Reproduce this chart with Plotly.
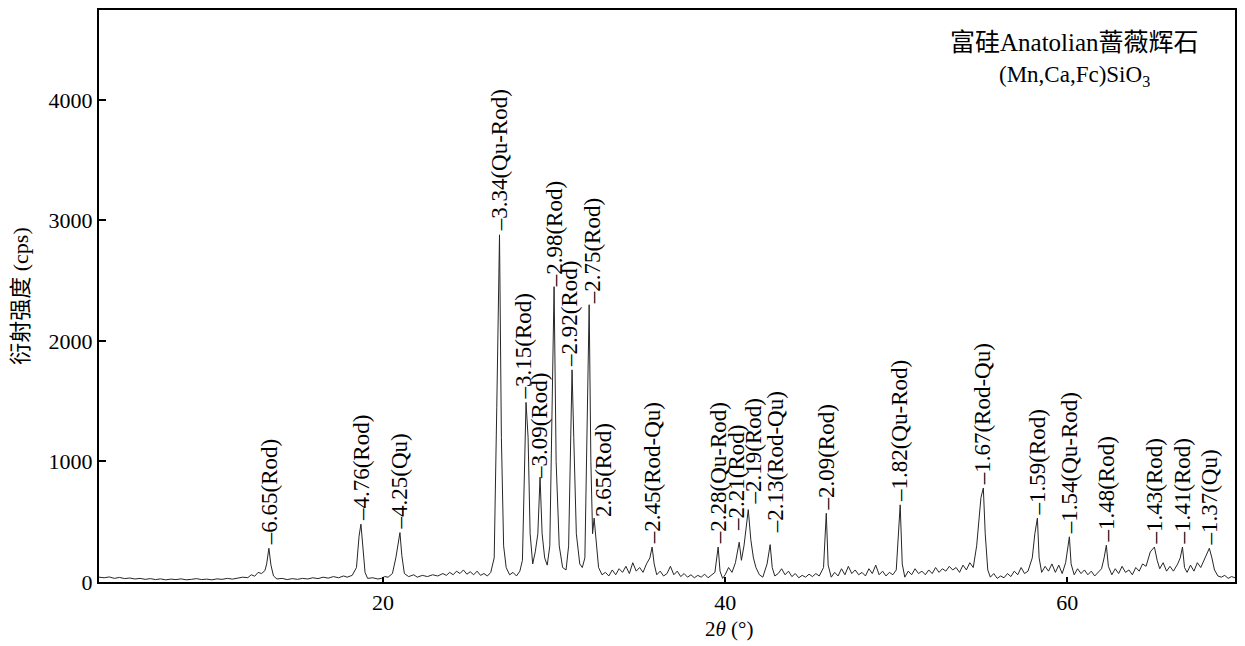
import plotly.graph_objects as go

# 2-theta (deg) and intensity (cps)
two_theta = [3.4, 3.7, 4.0, 4.3, 4.6, 4.9, 5.2, 5.5, 5.8, 6.1, 6.4, 6.7, 7.0, 7.3, 7.6, 7.9, 8.2, 8.5, 8.8, 9.1,
             9.4, 9.7, 10.0, 10.3, 10.6, 10.9, 11.2, 11.5, 11.8, 12.1, 12.3, 12.5, 12.7, 12.9, 13.1, 13.2, 13.33, 13.45, 13.6, 13.8,
             14.1, 14.4, 14.7, 15.0, 15.3, 15.6, 15.9, 16.2, 16.5, 16.8, 17.1, 17.4, 17.7, 17.9, 18.2, 18.45, 18.6, 18.71, 18.82, 18.95,
             19.1, 19.4, 19.7, 19.9, 20.1, 20.3, 20.55, 20.75, 20.99, 21.1, 21.25, 21.5, 21.8, 22.0, 22.3, 22.6, 22.9, 23.2, 23.5, 23.7,
             23.9, 24.1, 24.3, 24.5, 24.7, 24.9, 25.1, 25.3, 25.5, 25.7, 25.9, 26.1, 26.3, 26.5, 26.65, 26.81, 26.92, 27.05, 27.2, 27.4,
             27.6, 27.8, 28.0, 28.15, 28.36, 28.48, 28.6, 28.75, 28.9, 29.05, 29.18, 29.3, 29.45, 29.6, 29.75, 29.9, 30.0, 30.12, 30.3, 30.5,
             30.7, 30.85, 31.05, 31.15, 31.3, 31.5, 31.65, 31.8, 31.93, 32.05, 32.15, 32.25, 32.34, 32.45, 32.6, 32.8, 33.0, 33.2, 33.4, 33.6,
             33.8, 34.0, 34.2, 34.4, 34.6, 34.8, 35.0, 35.2, 35.4, 35.6, 35.73, 35.85, 36.0, 36.2, 36.4, 36.6, 36.8, 37.0, 37.2, 37.4,
             37.6, 37.8, 38.0, 38.2, 38.4, 38.6, 38.8, 39.0, 39.2, 39.4, 39.59, 39.7, 39.85, 40.0, 40.2, 40.4, 40.6, 40.82, 40.95, 41.1,
             41.35, 41.5, 41.65, 41.8, 42.0, 42.2, 42.45, 42.63, 42.75, 42.9, 43.1, 43.3, 43.5, 43.7, 43.9, 44.1, 44.3, 44.5, 44.7, 44.9,
             45.1, 45.3, 45.5, 45.75, 45.91, 46.02, 46.2, 46.4, 46.6, 46.8, 47.0, 47.2, 47.4, 47.6, 47.8, 48.0, 48.2, 48.4, 48.6, 48.8,
             49.0, 49.2, 49.4, 49.6, 49.8, 50.0, 50.23, 50.35, 50.5, 50.7, 50.9, 51.1, 51.3, 51.5, 51.7, 51.9, 52.1, 52.3, 52.5, 52.7,
             52.9, 53.1, 53.3, 53.5, 53.7, 53.9, 54.1, 54.3, 54.5, 54.7, 54.95, 55.09, 55.2, 55.35, 55.5, 55.7, 55.9, 56.1, 56.3, 56.5,
             56.7, 56.9, 57.1, 57.3, 57.5, 57.7, 57.95, 58.1, 58.25, 58.35, 58.5, 58.7, 58.9, 59.1, 59.3, 59.5, 59.7, 59.9, 60.12, 60.22,
             60.4, 60.6, 60.8, 61.0, 61.2, 61.4, 61.6, 61.8, 62.0, 62.15, 62.28, 62.4, 62.6, 62.8, 63.0, 63.2, 63.4, 63.6, 63.8, 64.0,
             64.2, 64.4, 64.6, 64.85, 65.09, 65.25, 65.4, 65.6, 65.8, 66.0, 66.2, 66.45, 66.6, 66.73, 66.85, 67.0, 67.2, 67.4, 67.6, 67.8,
             68.1, 68.3, 68.45, 68.6, 68.8, 69.0, 69.2, 69.4, 69.6, 69.8]
intensity = [40, 35, 42, 30, 38, 28, 33, 25, 30, 22, 28, 20, 26, 18, 24, 20, 26, 18, 22, 28,
             20, 24, 18, 26, 22, 30, 24, 32, 40, 36, 60, 48, 80, 70, 95, 150, 280, 140, 50, 25,
             30, 20, 28, 22, 30, 25, 35, 28, 40, 32, 45, 35, 50, 40, 55, 120, 380, 480, 300, 80,
             30, 35, 25, 30, 45, 40, 70, 200, 410, 220, 70, 45, 60, 40, 55, 45, 60, 50, 70, 55,
             80, 60, 90, 70, 100, 65, 85, 60, 90, 55, 70, 50, 80, 200, 1450, 2880, 1200, 300, 120, 60,
             80, 50, 90, 180, 1490, 1200, 400, 150, 250, 400, 870, 400, 200, 140, 300, 1500, 2450, 1000, 300, 120,
             100, 300, 1760, 1200, 400, 150, 120, 200, 1200, 2300, 1000, 400, 530, 350, 120, 60, 80, 50, 100, 60,
             110, 80, 130, 70, 160, 90, 120, 80, 150, 200, 290, 150, 60, 90, 50, 70, 130, 60, 90, 45,
             70, 40, 60, 35, 55, 40, 65, 35, 60, 80, 290, 90, 30, 60, 120, 80, 160, 330, 180, 300,
             600, 350, 200, 120, 60, 40, 150, 310, 120, 50, 70, 110, 60, 90, 45, 70, 35, 55, 40, 65,
             45, 70, 50, 120, 570, 140, 40, 80, 50, 110, 60, 130, 70, 100, 60, 80, 50, 110, 70, 140,
             60, 90, 50, 80, 60, 100, 640, 150, 40, 90, 60, 110, 70, 90, 60, 100, 70, 120, 80, 110,
             90, 130, 100, 120, 80, 140, 100, 160, 120, 300, 700, 780, 400, 100, 40, 70, 30, 50, 35, 70,
             45, 90, 60, 120, 70, 90, 200, 400, 530, 200, 80, 130, 90, 150, 80, 140, 70, 160, 375, 150,
             60, 110, 70, 100, 60, 90, 50, 80, 110, 200, 305, 130, 60, 110, 70, 130, 80, 100, 60, 120,
             90, 150, 130, 250, 290, 180, 110, 160, 90, 130, 90, 150, 200, 290, 120, 80, 140, 90, 160, 120,
             220, 280, 200, 100, 50, 40, 55, 30, 45, 35]

# peak labels: position, label-anchor height, text, x pixel shift
label_pos = [13.33, 18.71, 20.99, 26.81, 28.36, 29.18, 30.00, 31.05, 32.05, 32.34, 35.73, 39.59,
             40.82, 41.35, 42.63, 45.91, 50.23, 55.09, 58.25, 60.12, 62.28, 65.09, 66.73, 68.30]
label_y = [280, 480, 410, 2880, 1490, 830, 2420, 1760, 2280, 515, 290, 290,
           400, 620, 380, 570, 640, 780, 530, 375, 305, 290, 290, 280]
label_text = ["–6.65(Rod)", "–4.76(Rod)", "–4.25(Qu)", "–3.34(Qu-Rod)", "–3.15(Rod)", "–3.09(Rod)",
              "–2.98(Rod)", "–2.92(Rod)", "–2.75(Rod)", "2.65(Rod)", "–2.45(Rod-Qu)", "–2.28(Qu-Rod)",
              "–2.21(Rod)", "–2.19(Rod)", "–2.13(Rod-Qu)", "–2.09(Rod)", "–1.82(Qu-Rod)", "–1.67(Rod-Qu)",
              "–1.59(Rod)", "–1.54(Qu-Rod)", "–1.48(Rod)", "–1.43(Rod)", "–1.41(Rod)", "–1.37(Qu)"]
label_dx = [0, 0, 0, 0, -3, 0, 0, -2, 3, 10, 0, 0, -2, 5, 5, 0, 0, 0, 0, 0, 0, 0, 0, 0]

x_ticks = [20, 40, 60]
y_ticks = [0, 1000, 2000, 3000, 4000]

SERIF = "Liberation Serif, Times New Roman, Noto Sans CJK SC, serif"

fig = go.Figure()
fig.add_trace(go.Scatter(x=two_theta, y=intensity, mode="lines",
                         line=dict(color="#262626", width=1), showlegend=False,
                         hoverinfo="skip"))

for xp, yp, t, dx in zip(label_pos, label_y, label_text, label_dx):
    fig.add_annotation(x=xp, y=yp, text=t, textangle=-90, showarrow=False,
                       xanchor="center", yanchor="bottom", yshift=1, xshift=dx,
                       font=dict(family=SERIF, size=23, color="black"))

fig.add_annotation(xref="paper", yref="paper", x=0.859, y=0.944, text="富硅Anatolian蔷薇辉石",
                   showarrow=False, xanchor="center", yanchor="middle",
                   font=dict(family=SERIF, size=25, color="black"))
fig.add_annotation(xref="paper", yref="paper", x=0.859, y=0.885, text="(Mn,Ca,Fc)SiO<sub>3</sub>",
                   showarrow=False, xanchor="center", yanchor="middle",
                   font=dict(family=SERIF, size=23, color="black"))
fig.add_annotation(xref="paper", yref="paper", x=0.555, y=-0.082, text="2<i>θ</i> (°)",
                   showarrow=False, xanchor="center", yanchor="middle", borderpad=0,
                   font=dict(family=SERIF, size=21, color="black"))

fig.update_layout(
    width=1237, height=638,
    margin=dict(l=91, r=10, t=2, b=64, autoexpand=False),
    paper_bgcolor="white", plot_bgcolor="white",
    font=dict(family=SERIF, size=22, color="black"),
    xaxis=dict(range=[3.4, 69.8], tickvals=x_ticks, ticks="inside", ticklen=5, tickwidth=2,
               tickcolor="black", showgrid=False, zeroline=False, showline=True,
               linecolor="black", linewidth=2, mirror=True, automargin=False,
               tickfont=dict(family=SERIF, size=22)),
    yaxis=dict(range=[0, 4745], tickvals=y_ticks, ticks="inside", ticklen=7, tickwidth=2,
               tickcolor="black", showgrid=False, zeroline=False, showline=True,
               linecolor="black", linewidth=2, mirror=True, automargin=False,
               tickfont=dict(family=SERIF, size=22),
               title=dict(text="衍射强度 (cps)", font=dict(family=SERIF, size=22), standoff=18)),
)

fig.write_html("out.html")
